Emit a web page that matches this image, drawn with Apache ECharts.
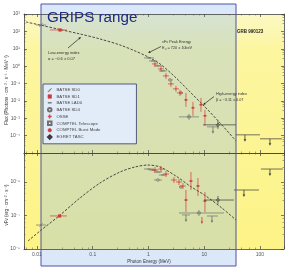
<!DOCTYPE html>
<html><head><meta charset="utf-8">
<script src="https://cdn.jsdelivr.net/npm/echarts@6/dist/echarts.min.js"></script>
<style>html,body{margin:0;padding:0;background:#fff}#c{width:292px;height:273px}</style>
</head><body><div id="c"></div>
<script>
// ---------- tick labels ----------
const xTickExps = [-2, -1, 0, 1, 2];
const xTickLabels = ['0.01', '0.1', '1', '10', '100'];
const yUpperTickExps = [3, 2, 1, 0, -1, -2, -3, -4];
const yLowerTickExps = [-6, -7, -8];

// ---------- Band model curve ----------
const modelEnergyUpper = [0.00635, 0.0113, 0.0259, 0.059, 0.135, 0.308, 0.573, 0.98, 1.61, 2.99, 5.55, 10.3, 19.2, 37.1];
const modelFlux = [347, 233, 128, 71, 36.6, 16.5, 7.5, 3.4, 1.34, 0.24, 0.033, 0.0045, 5.4e-4, 5.0e-5];
const modelEnergyLower = [0.0069, 0.0113, 0.0248, 0.059, 0.135, 0.308, 0.573, 0.98, 1.61, 3.11, 5.55, 10.7, 20.8, 37.1];
const modelNuFnu = [1.73e-8, 3.44e-8, 9.66e-8, 3.33e-7, 9.33e-7, 1.99e-6, 2.81e-6, 3.21e-6, 2.81e-6, 1.51e-6, 7.6e-7, 3.82e-7, 1.67e-7, 7.35e-8];

// ---------- measurements: [E, value, Elo, Ehi, valLo, valHi] ----------
const sd0Flux = [[0.0118, 233, 0.0096, 0.0145, null, null]];
const sd0NuFnu = [[0.0118, 5.2e-8, 0.0096, 0.0145, null, null]];
const sd1Flux = [[0.0259, 120, 0.0171, 0.0345, null, null]];
const sd1NuFnu = [[0.0255, 9.7e-8, 0.0171, 0.0345, null, null]];
const lad0Flux = [[1.02, 2.96, 0.83, 1.255, null, null], [1.204, 1.99, 1.02, 1.42, null, null], [1.48, 1.03, 1.255, 1.747, null, null], [1.82, 0.53, 1.543, 2.147, null, null]];
const lad0NuFnu = [[1.02, 2.44e-6, 0.83, 1.255, null, null], [1.204, 2.28e-6, 1.02, 1.42, null, null], [1.48, 1.99e-6, 1.255, 1.747, null, null], [1.82, 1.62e-6, 1.543, 2.147, null, null]];
const sd4Flux = [[2.431, 0.161, 2.238, 2.751, null, null], [3.828, 0.0288, 3.525, 4.158, null, null]];
const sd4NuFnu = [[1.48, 1.15e-6, 1.255, 1.747, null, null], [3.828, 7.09e-7, 3.525, 4.158, null, null]];
const osseFlux = [[1.308, 1.34, 1.156, 1.48, 0.90, 1.99], [1.676, 0.69, 1.48, 1.897, 0.465, 1.03], [2.061, 0.274, 1.82, 2.332, 0.184, 0.407], [2.533, 0.0948, 2.238, 2.867, 0.0638, 0.141], [3.114, 0.049, 2.751, 3.525, 0.033, 0.0728], [3.673, 0.0288, 3.245, 4.158, 0.0194, 0.0429]];
const osseNuFnu = [[1.308, 2.28e-6, 1.156, 1.48, 1.86e-6, 2.81e-6], [1.676, 2.44e-6, 1.48, 1.897, 1.99e-6, 3.01e-6], [2.061, 1.73e-6, 1.82, 2.332, 1.41e-6, 2.13e-6], [2.867, 1.15e-6, 2.533, 3.245, 9.33e-7, 1.41e-6], [3.525, 1.0e-6, 3.114, 3.99, 8.13e-7, 1.23e-6], [4.158, 7.6e-7, 3.673, 4.706, 6.18e-7, 9.33e-7]];
const telescopeFlux = [[5.327, 0.0012, 3.525, 8.052, 8.09e-4, 0.00179]];
const telescopeNuFnu = [[8.052, 1.19e-7, 3.525, 22.61, 9.66e-8, 1.46e-7]];
const burstFlux = [[4.706, 0.0114, 4.333, 5.112, 0.00452, 0.0288], [6.284, 0.00396, 5.786, 6.826, 0.00137, 0.00876], [8.744, 0.00589, 8.052, 9.497, 0.00233, 0.0149], [10.31, 0.00137, 9.497, 11.2, 3.66e-4, 0.00304]];
const burstNuFnu = [[4.706, 2.9e-7, 4.333, 5.112, 1.27e-7, 5.77e-7], [5.786, 1.07e-6, 5.327, 6.284, 5.77e-7, 1.99e-6], [7.726, 7.6e-7, 7.113, 8.391, 3.82e-7, 1.32e-6], [10.31, 2.71e-7, 9.497, 11.2, 1.27e-7, 5.03e-7]];
const egretFlux = [[17.65, 4.18e-4, 9.497, 37.12, 2.46e-4, 7.09e-4]];
const egretNuFnu = [[17.65, 2.9e-7, 9.897, 34.17, 2.2e-7, 3.82e-7]];

// ---------- upper limits: [E, value, Elo, Ehi] ----------
const telescopeLimFlux = [[14.35, 3.2e-4, 11.2, 17.65]];
const telescopeLimNuFnu = [[4.706, 1.04e-7, 3.99, 5.552], [13.77, 9.66e-8, 11.2, 17.65]];
const burstLimNuFnu = [[9.11, 9.02e-8, null, null]];
const egretLimFlux = [[53.81, 1.11e-4, 37.12, 100], [151.1, 6.55e-5, 100, 248]];
const egretLimNuFnu = [[51.64, 5.77e-7, 34.17, 95.96], [151.1, 2.44e-6, 104.2, 258.5]];

const RED = '#d13a3a', GREY = '#707070', DARK = '#3a3a3a';
const FONT = '"Liberation Sans", Arial, sans-serif';

const instruments = [
  {name: 'BATSE SD0', color: GREY, marker: 'slash', icon: 'path://M0,9L9,0L10,1L1,10Z', up: sd0Flux, lo: sd0NuFnu},
  {name: 'BATSE SD1', color: RED, marker: 'square', icon: 'rect', up: sd1Flux, lo: sd1NuFnu},
  {name: 'BATSE LAD0', color: GREY, marker: 'dash', icon: 'path://M0,4L10,4L10,6L0,6Z', up: lad0Flux, lo: lad0NuFnu},
  {name: 'BATSE SD4', color: GREY, marker: 'circle', icon: 'emptyCircle', up: sd4Flux, lo: sd4NuFnu},
  {name: 'OSSE', color: RED, marker: 'plus', icon: 'path://M4,0h2v4h4v2h-4v4h-2v-4h-4v-2h4z', up: osseFlux, lo: osseNuFnu},
  {name: 'COMPTEL Telescope', color: GREY, marker: 'rect', icon: 'emptyRect', up: telescopeFlux, lo: telescopeNuFnu, limUp: telescopeLimFlux, limLo: telescopeLimNuFnu},
  {name: 'COMPTEL Burst Mode', color: RED, marker: 'dot', icon: 'circle', up: burstFlux, lo: burstNuFnu, limLo: burstLimNuFnu},
  {name: 'EGRET TASC', color: DARK, marker: 'diamond', icon: 'emptyDiamond', up: egretFlux, lo: egretNuFnu, limUp: egretLimFlux, limLo: egretLimNuFnu}
];

const ok = v => typeof v === 'number' && isFinite(v) && v > 0;

function markerEl(kind, c, color) {
  const s = 1.6;
  switch (kind) {
    case 'slash': return {type: 'line', shape: {x1: c[0] - s, y1: c[1] + s, x2: c[0] + s, y2: c[1] - s}, style: {stroke: color, lineWidth: 0.8}};
    case 'square': return {type: 'rect', shape: {x: c[0] - 1.6, y: c[1] - 1.6, width: 3.2, height: 3.2}, style: {fill: color}};
    case 'dash': return {type: 'line', shape: {x1: c[0] - 1.8, y1: c[1], x2: c[0] + 1.8, y2: c[1]}, style: {stroke: color, lineWidth: 0.9}};
    case 'circle': return {type: 'circle', shape: {cx: c[0], cy: c[1], r: 1.4}, style: {fill: 'none', stroke: color, lineWidth: 0.6}};
    case 'plus': return {type: 'circle', shape: {cx: c[0], cy: c[1], r: 0.6}, style: {fill: color}};
    case 'rect': return {type: 'rect', shape: {x: c[0] - 1.5, y: c[1] - 1, width: 3, height: 2}, style: {fill: 'none', stroke: color, lineWidth: 0.6}};
    case 'dot': return {type: 'circle', shape: {cx: c[0], cy: c[1], r: 1}, style: {fill: color}};
    case 'diamond': return {type: 'polygon', shape: {points: [[c[0], c[1] - 1.8], [c[0] + 1.8, c[1]], [c[0], c[1] + 1.8], [c[0] - 1.8, c[1]]]}, style: {fill: 'none', stroke: color, lineWidth: 0.6}};
  }
}

function pointRenderer(inst) {
  return function (params, api) {
    const x = api.value(0), y = api.value(1);
    const c = api.coord([x, y]);
    const st = {stroke: inst.color, lineWidth: 0.7};
    const kids = [];
    if (ok(api.value(2)) && ok(api.value(3))) {
      const a = api.coord([api.value(2), y]), b = api.coord([api.value(3), y]);
      kids.push({type: 'line', shape: {x1: a[0], y1: a[1], x2: b[0], y2: b[1]}, style: st});
    }
    if (ok(api.value(4)) && ok(api.value(5))) {
      const a = api.coord([x, api.value(4)]), b = api.coord([x, api.value(5)]);
      kids.push({type: 'line', shape: {x1: a[0], y1: a[1], x2: b[0], y2: b[1]}, style: st});
    }
    kids.push(markerEl(inst.marker, c, inst.color));
    return {type: 'group', children: kids};
  };
}

function limitRenderer(inst) {
  return function (params, api) {
    const x = api.value(0), y = api.value(1);
    const c = api.coord([x, y]);
    const st = {stroke: inst.color, lineWidth: 0.7};
    const kids = [];
    if (ok(api.value(2)) && ok(api.value(3))) {
      const a = api.coord([api.value(2), y]), b = api.coord([api.value(3), y]);
      kids.push({type: 'line', shape: {x1: a[0], y1: a[1], x2: b[0], y2: b[1]}, style: st});
    }
    const L = 7;
    kids.push({type: 'line', shape: {x1: c[0], y1: c[1], x2: c[0], y2: c[1] + L - 2}, style: {stroke: inst.color, lineWidth: 0.8}});
    kids.push({type: 'polygon', shape: {points: [[c[0] - 1.3, c[1] + L - 2.5], [c[0] + 1.3, c[1] + L - 2.5], [c[0], c[1] + L]]}, style: {fill: inst.color}});
    return {type: 'group', children: kids};
  };
}

const series = [
  {type: 'line', name: 'model-up', xAxisIndex: 0, yAxisIndex: 0, data: modelEnergyUpper.map((e, i) => [e, modelFlux[i]]), smooth: 0.3, showSymbol: false, silent: true,
   lineStyle: {color: '#222', width: 0.8, type: [2.5, 1.5]}, z: 3},
  {type: 'line', name: 'model-lo', xAxisIndex: 1, yAxisIndex: 1, data: modelEnergyLower.map((e, i) => [e, modelNuFnu[i]]), smooth: 0.3, showSymbol: false, silent: true,
   lineStyle: {color: '#222', width: 0.8, type: [2.5, 1.5]}, z: 3}
];
instruments.forEach(inst => {
  series.push({type: 'custom', name: inst.name, xAxisIndex: 0, yAxisIndex: 0, data: inst.up, encode: {x: 0, y: 1}, renderItem: pointRenderer(inst), itemStyle: {color: inst.color}, z: 4, silent: true});
  series.push({type: 'custom', name: inst.name, xAxisIndex: 1, yAxisIndex: 1, data: inst.lo, encode: {x: 0, y: 1}, renderItem: pointRenderer(inst), itemStyle: {color: inst.color}, z: 4, silent: true});
  if (inst.limUp) series.push({type: 'custom', name: inst.name, xAxisIndex: 0, yAxisIndex: 0, data: inst.limUp, encode: {x: 0, y: 1}, renderItem: limitRenderer(inst), itemStyle: {color: inst.color}, z: 4, silent: true});
  if (inst.limLo) series.push({type: 'custom', name: inst.name, xAxisIndex: 1, yAxisIndex: 1, data: inst.limLo, encode: {x: 0, y: 1}, renderItem: limitRenderer(inst), itemStyle: {color: inst.color}, z: 4, silent: true});
});

const SUP = {'-': '⁻', '0': '⁰', '1': '¹', '2': '²', '3': '³', '4': '⁴', '5': '⁵', '6': '⁶', '7': '⁷', '8': '⁸', '9': '⁹'};
function powLabel(exps) {
  return function (v) {
    const l = Math.log10(v), r = Math.round(l);
    if (Math.abs(l - r) > 1e-6 || exps.indexOf(r) < 0) return '';
    return '10' + String(r).split('').map(ch => SUP[ch]).join('');
  };
}
function xLabel(v) {
  const l = Math.log10(v), r = Math.round(l);
  if (Math.abs(l - r) > 1e-6) return '';
  const i = xTickExps.indexOf(r);
  return i < 0 ? '' : xTickLabels[i];
}

const axisLineStyle = {show: true, lineStyle: {color: '#444', width: 0.8}};
const tick = {show: true, inside: true, length: 3, lineStyle: {color: '#444', width: 0.7}};
const minor = {show: true, splitNumber: 5, length: 1.5, lineStyle: {color: '#555', width: 0.5}};
const XMIN = 0.00585, XMAX = 270;
function xAx(grid, pos, labels) {
  return {type: 'log', logBase: 10, gridIndex: grid, position: pos, min: XMIN, max: XMAX, splitNumber: 5,
    axisLine: axisLineStyle, axisTick: tick, minorTick: minor, splitLine: {show: false},
    axisLabel: labels ? {show: true, formatter: xLabel, fontSize: 5, color: '#555', margin: 3, fontFamily: FONT, showMinLabel: true, showMaxLabel: true} : {show: false}};
}
function yAx(grid, pos, min, max, split, exps) {
  return {type: 'log', logBase: 10, gridIndex: grid, position: pos, min: min, max: max, splitNumber: split,
    axisLine: axisLineStyle, axisTick: tick, minorTick: minor, splitLine: {show: false},
    axisLabel: exps ? {show: true, formatter: powLabel(exps), fontSize: 5, color: '#555', margin: 4, fontFamily: FONT} : {show: false}};
}

const yellowGrad = new echarts.graphic.LinearGradient(0, 0, 0, 1, [
  {offset: 0, color: '#fbf8c4'}, {offset: 0.15, color: '#fcf6a0'}, {offset: 1, color: '#fdf386'}
]);

function arrow(x1, y1, x2, y2) {
  const ang = Math.atan2(y2 - y1, x2 - x1), h = 2.6, w = 1.1;
  const bx = x2 - h * Math.cos(ang), by = y2 - h * Math.sin(ang);
  return [
    {type: 'line', shape: {x1: x1, y1: y1, x2: bx, y2: by}, style: {stroke: '#222', lineWidth: 0.7}, z: 70},
    {type: 'polygon', shape: {points: [[x2, y2], [bx - w * Math.sin(ang), by + w * Math.cos(ang)], [bx + w * Math.sin(ang), by - w * Math.cos(ang)]]}, style: {fill: '#222'}, z: 70}
  ];
}
function txt(x, y, t, size, extra) {
  return Object.assign({type: 'text', x: x, y: y, z: 70, style: Object.assign({text: t, font: size + 'px ' + FONT, fill: '#333', verticalAlign: 'middle'}, extra || {})});
}

const graphics = [
  {type: 'rect', shape: {x: 24, y: 14, width: 260, height: 235}, style: {fill: yellowGrad}, z: -10},
  {type: 'rect', shape: {x: 41, y: 4, width: 195, height: 262}, style: {fill: 'rgba(140,185,240,0.32)'}, z: -5},
  {type: 'rect', shape: {x: 41, y: 4, width: 195, height: 262}, style: {fill: 'none', stroke: '#4b52a8', lineWidth: 1}, z: 60},
  txt(47, 17.5, 'GRIPS range', 15.2, {fill: '#1f2b88'}),
  txt(237, 32, 'GRB 990123', 4.5, {fill: '#222', font: 'bold 4.5px ' + FONT}),
  txt(48, 53, 'Low-energy index', 4),
  txt(48, 58.5, 'α = −0.6 ± 0.07', 4),
  txt(162, 42, 'νFν Peak Energy', 3.8),
  txt(162, 47.5, 'Eₚ = 720 ± 10keV', 3.8),
  txt(216, 94, 'High-energy index', 3.8),
  txt(216, 99.5, 'β = −3.11 ± 0.07', 3.8),
  txt(149, 262, 'Photon Energy (MeV)', 4.5, {align: 'center'}),
  Object.assign(txt(7, 90, 'Flux (Photons · cm⁻² · s⁻¹ · MeV⁻¹)', 4.5, {align: 'center'}), {rotation: Math.PI / 2}),
  Object.assign(txt(7, 205, 'νFν (erg · cm⁻² · s⁻¹)', 4.5, {align: 'center'}), {rotation: Math.PI / 2})
].concat(arrow(68, 48, 81, 37), arrow(161, 46.5, 148, 53), arrow(214, 96.5, 203, 105));

const option = {
  animation: false,
  backgroundColor: '#ffffff',
  grid: [
    {left: 24, top: 14, width: 260, height: 139},
    {left: 24, top: 153, width: 260, height: 96}
  ],
  xAxis: [xAx(0, 'bottom', false), xAx(1, 'bottom', true), xAx(0, 'top', false), xAx(1, 'top', false)],
  yAxis: [
    yAx(0, 'left', 1e-5, 1e3, 8, yUpperTickExps),
    yAx(1, 'left', 1e-8, 7.35e-6, 3, yLowerTickExps),
    yAx(0, 'right', 1e-5, 1e3, 8, null),
    yAx(1, 'right', 1e-8, 7.35e-6, 3, null)
  ],
  legend: {
    show: true, orient: 'vertical', left: 43, top: 84, selectedMode: false,
    backgroundColor: '#e2ecf8', borderColor: '#2c3a66', borderWidth: 0.8,
    padding: [4, 36, 4, 4], itemWidth: 3.5, itemHeight: 3.5, itemGap: 1.9,
    textStyle: {fontSize: 4.3, color: '#444', fontFamily: FONT, lineHeight: 4.4},
    data: instruments.map(inst => ({name: inst.name, icon: inst.icon, itemStyle: {color: inst.color, borderColor: inst.color, borderWidth: 0.6}}))
  },
  graphic: {elements: graphics},
  series: series
};
const chart = echarts.init(document.getElementById('c'), null, {renderer: 'canvas'});
chart.setOption(option);
</script>
</body></html>
